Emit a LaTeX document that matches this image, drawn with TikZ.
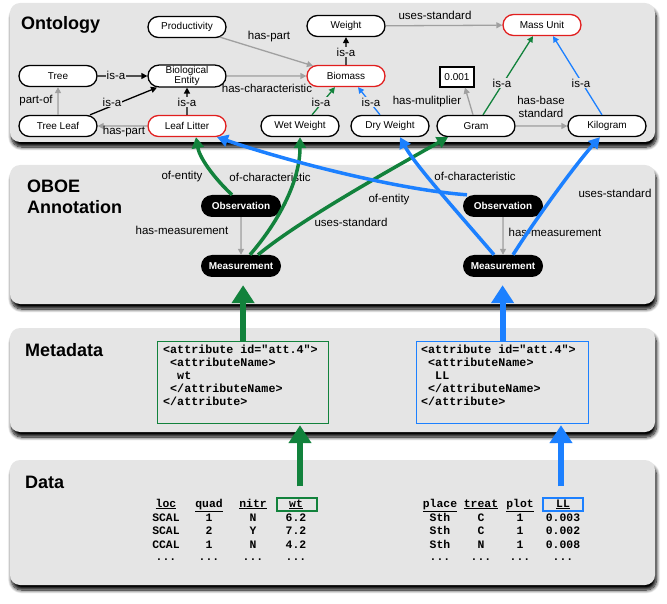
\documentclass[tikz,border=0pt]{standalone}
\usepackage{fontspec}
\setmainfont{Liberation Sans}
\setmonofont{Liberation Mono}
\usetikzlibrary{shapes.misc, arrows.meta, shadows.blur}
\definecolor{panelgray}{RGB}{229,229,229}
\definecolor{ogreen}{RGB}{18,130,60}
\definecolor{oblue}{RGB}{28,128,255}
\definecolor{ored}{RGB}{225,30,30}
\definecolor{agray}{RGB}{160,160,160}
\begin{document}
\begin{tikzpicture}[x=1pt,y=-1pt,
  panel/.style={fill=panelgray, rounded corners=10pt, blur shadow={shadow xshift=1.5pt, shadow yshift=-5pt, shadow blur steps=10, shadow blur radius=3.5pt, shadow opacity=100}},
  ptitle/.style={font=\fontsize{18}{21}\selectfont\bfseries, align=left, anchor=west, inner sep=0},
  onode/.style={rounded rectangle, draw=black, line width=1.3pt, fill=white, minimum width=80pt, minimum height=21pt, inner sep=1pt, font=\fontsize{10}{10.5}\selectfont, align=center},
  rnode/.style={onode, draw=ored},
  bnode/.style={rounded rectangle, fill=black, text=white, minimum width=82pt, minimum height=22pt, inner sep=1pt, font=\fontsize{10}{12}\selectfont\bfseries},
  lbl/.style={font=\fontsize{11.5}{13}\selectfont, inner sep=1pt, align=center},
  lblf/.style={lbl, fill=panelgray},
  thin/.style={line width=1.3pt, -{Triangle[length=6pt,width=6pt]}},
  garr/.style={thin, draw=agray, fill=agray},
  karr/.style={thin, draw=black},
  gnarr/.style={thin, draw=ogreen},
  bnarr/.style={thin, draw=oblue},
  tg/.style={draw=ogreen, line width=3.5pt, -{Triangle[length=11pt,width=12pt]}},
  tb/.style={draw=oblue, line width=3.5pt, -{Triangle[length=11pt,width=12pt]}},
  bigg/.style={draw=ogreen, line width=6pt, -{Triangle[length=18pt,width=22pt]}},
  bigb/.style={draw=oblue, line width=6pt, -{Triangle[length=18pt,width=22pt]}},
  mdtext/.style={font=\fontsize{11.7}{13}\selectfont\ttfamily\bfseries, align=left, inner sep=0, anchor=north west},
  dcell/.style={font=\fontsize{11.4}{13}\selectfont\ttfamily\bfseries, inner sep=0, anchor=base}
]
\useasboundingbox (0,0) rectangle (667,604);
% panels
\path[panel] (10,3) rectangle (655,142);
\path[panel] (10,165) rectangle (655,304);
\path[panel] (10,328) rectangle (655,432);
\path[panel] (10,460) rectangle (655,585);
% titles
\node[ptitle] (t-onto) at (21,25) {Ontology};
\node[ptitle] (t-oboe) at (27,197) {OBOE\\Annotation};
\node[ptitle] (t-meta) at (25,350) {Metadata};
\node[ptitle] (t-data) at (25,482) {Data};
% ontology nodes
\node[onode] (prod) at (187,27) {Productivity};
\node[onode] (weight) at (346,26) {Weight};
\node[rnode] (mass) at (542,25) {Mass Unit};
\node[onode] (tree) at (58,76) {Tree};
\node[onode] (bio) at (187,76) {Biological\\Entity};
\node[rnode] (biomass) at (346,76) {Biomass};
\node[draw, line width=1.3pt, fill=white, minimum width=34pt, minimum height=20pt, inner sep=1pt, font=\fontsize{10}{12}\selectfont] (mult) at (457,77) {0.001};
\node[onode] (leaf) at (58,126) {Tree Leaf};
\node[rnode] (litter) at (187,126) {Leaf Litter};
\node[onode] (wet) at (300,126) {Wet Weight};
\node[onode] (dry) at (390,126) {Dry Weight};
\node[onode] (gram) at (476,126) {Gram};
\node[onode] (kg) at (607,126) {Kilogram};
% ontology edges
\draw[karr] (tree) -- (bio);
\draw[karr] ([xshift=32pt]leaf.north) -- ([xshift=-30pt]bio.south);
\draw[garr] (leaf) -- (tree);
\draw[garr] (litter) -- (leaf);
\draw[karr] (litter) -- (bio);
\draw[garr] (bio) -- (biomass);
\draw[garr] (prod) -- (biomass);
\draw[karr] (biomass) -- (weight);
\draw[garr] (weight) -- (mass);
\draw[gnarr] ([xshift=12pt]wet.north) -- ([xshift=-11pt]biomass.south);
\draw[bnarr] ([xshift=-10pt]dry.north) -- ([xshift=12pt]biomass.south);
\draw[garr] ([xshift=-3pt]gram.north) -- ([xshift=8pt]mult.south);
\draw[gnarr] ([xshift=7pt]gram.north) -- ([xshift=-9pt]mass.south);
\draw[bnarr] ([xshift=-5pt]kg.north) -- ([xshift=11pt]mass.south);
\draw[garr] (gram) -- (kg);
% ontology labels
\node[lblf] (l-tree-bio) at (116,75) {is-a};
\node[lblf] (l-leaf-bio) at (112,102) {is-a};
\node[lbl] (l-partof) at (36,101) {part-of};
\node[lbl] (l-haspart1) at (124,132) {has-part};
\node[lblf] (l-litter-bio) at (187,102) {is-a};
\node[lbl] (l-haschar) at (267,88) {has-characteristic};
\node[lbl] (l-haspart2) at (269,37) {has-part};
\node[lblf] (l-biomass-weight) at (346,52) {is-a};
\node[lbl] (l-usesstd) at (435,15) {uses-standard};
\node[lblf] (l-wet) at (321,102) {is-a};
\node[lblf] (l-dry) at (371,102) {is-a};
\node[lbl] (l-mult) at (427,102) {has-mulitplier};
\node[lblf] (l-gram-mass) at (502,83) {is-a};
\node[lbl, font=\fontsize{11.5}{13.5}\selectfont] (l-base) at (541,107) {has-base\\standard};
\node[lblf] (l-kg-mass) at (581,83) {is-a};
% OBOE nodes
\node[bnode] (obsL) at (241,206) {Observation};
\node[bnode] (measL) at (241,266) {Measurement};
\node[bnode] (obsR) at (503,206) {Observation};
\node[bnode] (measR) at (503,266) {Measurement};
% OBOE labels
\node[lbl] (a1) at (182,177) {of-entity};
\node[lbl] (a2) at (270,177) {of-characteristic};
\node[lbl] (a3) at (182,230) {has-measurement};
\node[lbl] (a4) at (351,222) {uses-standard};
\node[lbl] (a5) at (389,200) {of-entity};
\node[lbl] (a6) at (475,176) {of-characteristic};
\node[lbl] (a7) at (555,232) {has-measurement};
\node[lbl] (a8) at (615,193) {uses-standard};
% OBOE edges
\draw[garr] (obsL) -- (measL);
\draw[garr] (obsR) -- (measR);
\draw[tg] ([xshift=-9pt]obsL.north) .. controls (218,182) and (200,160) .. ([xshift=9pt]litter.south);
\draw[tg] ([xshift=9pt]measL.north) .. controls (280,220) and (300,180) .. (wet.south);
\draw[tg] ([xshift=17pt]measL.north) .. controls (300,220) and (390,170) .. ([xshift=-28pt]gram.south);
\draw[tb] ([xshift=-36pt]obsR.north) .. controls (400,190) and (290,162) .. ([xshift=30pt]litter.south);
\draw[tb] ([xshift=-9pt]measR.north) .. controls (460,215) and (415,165) .. ([xshift=10pt]dry.south);
\draw[tb] ([xshift=10pt]measR.north) .. controls (535,220) and (575,165) .. ([xshift=-7pt]kg.south);
% metadata boxes
\node[draw=ogreen, line width=1.2pt, minimum width=171pt, minimum height=82pt, inner sep=0, anchor=north west] (mdL) at (157,341) {};
\node[draw=oblue, line width=1.2pt, minimum width=172pt, minimum height=82pt, inner sep=0, anchor=north west] (mdR) at (416,341) {};
\node[mdtext] (mdLt) at (163,345) {<attribute id="att.4">\\\phantom{a}<attributeName>\\\phantom{aa}wt\\\phantom{a}</attributeName>\\</attribute>};
\node[mdtext] (mdRt) at (421,345) {<attribute id="att.4">\\\phantom{a}<attributeName>\\\phantom{aa}LL\\\phantom{a}</attributeName>\\</attribute>};
% data tables
\foreach \x/\h/\a/\b/\c [count=\i] in {166/loc/SCAL/SCAL/CCAL, 209/quad/1/2/1, 253/nitr/N/Y/N, 296/wt/6.2/7.2/4.2} {
  \node[dcell] (dl-h\i) at (\x,507) {\underline{\h}};
  \node[dcell] (dl-a\i) at (\x,521) {\a};
  \node[dcell] (dl-b\i) at (\x,534) {\b};
  \node[dcell] (dl-c\i) at (\x,548) {\c};
  \node[dcell] (dl-d\i) at (\x,560) {...};
}
\foreach \x/\h/\a/\b/\c [count=\i] in {440/place/Sth/Sth/Sth, 481/treat/C/C/N, 520/plot/1/1/1, 563/LL/0.003/0.002/0.008} {
  \node[dcell] (dr-h\i) at (\x,507) {\underline{\h}};
  \node[dcell] (dr-a\i) at (\x,521) {\a};
  \node[dcell] (dr-b\i) at (\x,534) {\b};
  \node[dcell] (dr-c\i) at (\x,548) {\c};
  \node[dcell] (dr-d\i) at (\x,560) {...};
}
\node[draw=ogreen, line width=1.3pt, minimum width=40pt, minimum height=13pt, inner sep=0] (wtbox) at (297,504.5) {};
\node[draw=oblue, line width=1.3pt, minimum width=40pt, minimum height=13pt, inner sep=0] (llbox) at (563,504.5) {};
% big arrows
\draw[bigg, shorten >=8pt] (mdL.north) -- (mdL.north |- measL.south);
\draw[bigb, shorten >=8pt] (mdR.north) -- (mdR.north |- measR.south);
\draw[bigg, shorten <=11pt, shorten >=1pt] ([xshift=3pt]wtbox.north) -- ([xshift=3pt]wtbox.north |- mdL.south);
\draw[bigb, shorten <=11pt, shorten >=1pt] ([xshift=-2pt]llbox.north) -- ([xshift=-2pt]llbox.north |- mdR.south);
\end{tikzpicture}
\end{document}
